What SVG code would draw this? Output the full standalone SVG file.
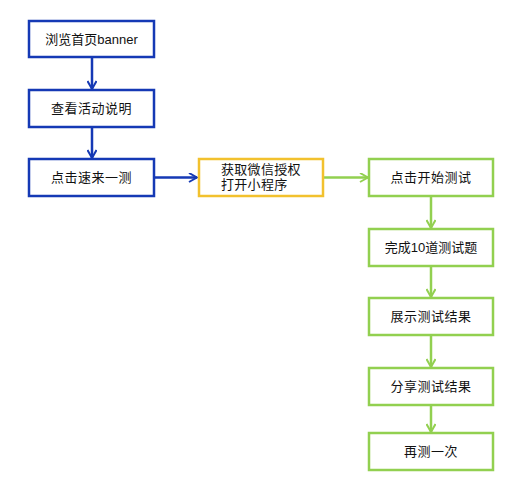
<svg xmlns="http://www.w3.org/2000/svg" width="519" height="483" viewBox="0 0 519 483">
<defs>
<style>
.b{fill:#fff;stroke:#1539b5;stroke-width:2.5}
.y{fill:#fff;stroke:#f2c12e;stroke-width:2.5}
.g{fill:#fff;stroke:#92d050;stroke-width:2.5}
.t{font-family:"Liberation Sans","Noto Sans CJK SC",sans-serif;font-size:13px;fill:#111;text-anchor:middle;dominant-baseline:central}
.tl{font-family:"Liberation Sans","Noto Sans CJK SC",sans-serif;font-size:13px;fill:#111;letter-spacing:0.3px}
.cb{stroke:#1539b5;stroke-width:2.5;fill:none}
.cg{stroke:#92d050;stroke-width:2.5;fill:none}
</style>
<marker id="ab" viewBox="0 0 10 10" refX="9" refY="5" markerWidth="10" markerHeight="10" markerUnits="userSpaceOnUse" orient="auto"><path d="M1,0.5 L9,5 L1,9.5" fill="none" stroke="#1539b5" stroke-width="2"/></marker>
<marker id="ag" viewBox="0 0 10 10" refX="9" refY="5" markerWidth="10" markerHeight="10" markerUnits="userSpaceOnUse" orient="auto"><path d="M1,0.5 L9,5 L1,9.5" fill="none" stroke="#92d050" stroke-width="2"/></marker>
</defs>
<rect width="519" height="483" fill="#fff"/>
<g id="connectors">
<path class="cb" d="M92,57 V89" marker-end="url(#ab)"/>
<path class="cb" d="M92,127 V158" marker-end="url(#ab)"/>
<path class="cb" d="M154,177.5 H197" marker-end="url(#ab)"/>
<path class="cg" d="M323,177.5 H368" marker-end="url(#ag)"/>
<path class="cg" d="M431,196 V228" marker-end="url(#ag)"/>
<path class="cg" d="M431,266 V297" marker-end="url(#ag)"/>
<path class="cg" d="M431,335 V367" marker-end="url(#ag)"/>
<path class="cg" d="M431,405 V432" marker-end="url(#ag)"/>
</g>
<g id="n1"><rect class="b" x="29" y="21" width="125" height="36"/><text class="t" x="91.5" y="39">浏览首页banner</text></g>
<g id="n2"><rect class="b" x="29" y="90" width="125" height="37"/><text class="t" x="91.5" y="108.5" letter-spacing="0.5">查看活动说明</text></g>
<g id="n3"><rect class="b" x="29" y="159" width="125" height="37"/><text class="t" x="91.5" y="177.5" letter-spacing="0.5">点击速来一测</text></g>
<g id="n4"><rect class="y" x="199" y="159" width="124" height="37"/><text class="tl" x="221" y="174">获取微信授权</text><text class="tl" x="221" y="189">打开小程序</text></g>
<g id="n5"><rect class="g" x="369" y="159" width="124" height="37"/><text class="t" x="431" y="177.5" letter-spacing="0.5">点击开始测试</text></g>
<g id="n6"><rect class="g" x="369" y="229" width="124" height="37"/><text class="t" x="431" y="247.5">完成10道测试题</text></g>
<g id="n7"><rect class="g" x="369" y="298" width="124" height="37"/><text class="t" x="431" y="316.5" letter-spacing="0.5">展示测试结果</text></g>
<g id="n8"><rect class="g" x="369" y="368" width="124" height="37"/><text class="t" x="431" y="386.5" letter-spacing="0.5">分享测试结果</text></g>
<g id="n9"><rect class="g" x="369" y="433" width="124" height="37"/><text class="t" x="431" y="451.5" letter-spacing="0.5">再测一次</text></g>
</svg>
